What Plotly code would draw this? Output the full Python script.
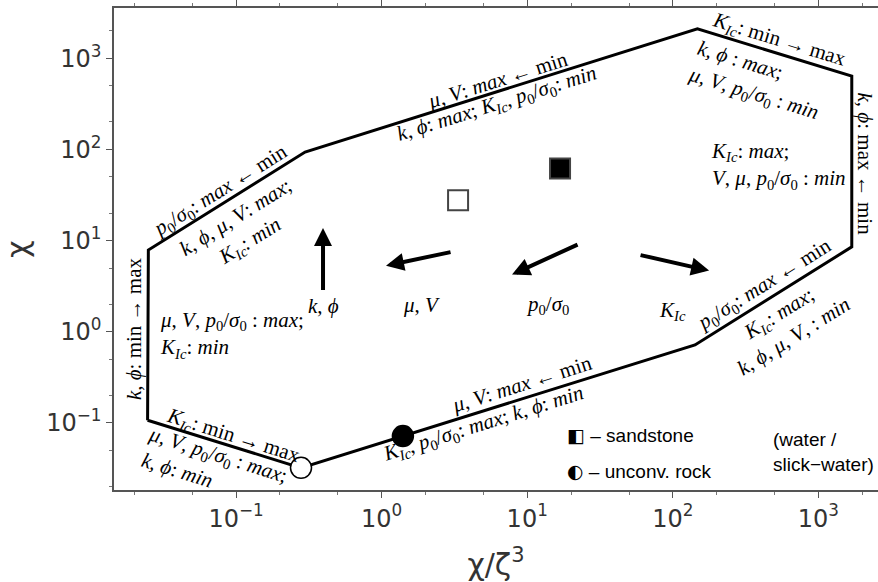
import plotly.graph_objects as go

# Outline of the regime map (closed polygon), in chi/zeta^3 and chi
outline_x = [0.0247, 0.0250, 0.298, 147.5, 1694, 1694, 142.0, 1.40, 0.2795, 0.0247]
outline_y = [0.107, 7.87, 93.7, 2104, 637, 8.54, 0.717, 0.0718, 0.0322, 0.107]

# Rock / fluid cases
sandstone_x = [3.35, 16.8]
sandstone_y = [27.7, 61.7]
sandstone_fill = ["white", "black"]
unconv_x = [0.2795, 1.40]
unconv_y = [0.0322, 0.0718]
unconv_fill = ["white", "black"]

x_ticks = [-1, 0, 1, 2, 3]
y_ticks = [-1, 0, 1, 2, 3]

SERIF = "Liberation Serif"
SANS = "Liberation Sans, DejaVu Sans"
MATH_SIZE = 21

K = "<i>K</i><sub><i>Ic</i></sub>"
P = "<i>p</i><sub>0</sub>/<i>σ</i><sub>0</sub>"

fig = go.Figure()

fig.add_trace(go.Scatter(
    x=outline_x, y=outline_y, mode="lines",
    line=dict(color="black", width=3), hoverinfo="skip", showlegend=False))

fig.add_trace(go.Scatter(
    x=sandstone_x, y=sandstone_y, mode="markers",
    marker=dict(symbol="square", size=20, color=sandstone_fill,
                line=dict(color="#444444", width=2)),
    showlegend=False))

fig.add_trace(go.Scatter(
    x=unconv_x, y=unconv_y, mode="markers",
    marker=dict(symbol="circle", size=21, color=unconv_fill,
                line=dict(color="black", width=1.5)),
    showlegend=False))

annotations = []


def label(text, lx, ly, angle=0, align="center", xanchor="center", size=MATH_SIZE, family=SERIF):
    annotations.append(dict(
        x=lx, y=ly, xref="x", yref="y", text=text, showarrow=False,
        textangle=angle, align=align, xanchor=xanchor, yanchor="middle",
        font=dict(family=family, size=size, color="black")))


# Edge labels (positions in log10 units)
label(f"{P}: <i>max</i> ← min", -1.110, 1.549, -32)
label(f"<i>k</i>, <i>ϕ</i>, <i>μ</i>, <i>V</i>: <i>max</i>;<br>{K}: <i>min</i>", -0.952, 1.116, -32)
label("<i>μ</i>, <i>V</i>: <i>max</i> ← min", 0.799, 2.758, -17.5)
label(f"<i>k</i>, <i>ϕ</i>: <i>max</i>; {K}, {P}: <i>min</i>", 0.793, 2.497, -17.5)
label(f"{K}: min → max", 2.729, 3.203, 17)
label(f"<i>k</i>, <i>ϕ</i> : <i>max</i>;<br><i>μ</i>, <i>V</i>, {P} : <i>min</i>", 2.578, 2.746, 17, align="left")
label("<i>k</i>, <i>ϕ</i>: max ← min", 3.320, 1.845, 90)
label(f"{P}: <i>max</i> ← min", 2.626, 0.518, -32)
label(f"{K}: <i>max</i>;<br><i>k</i>, <i>ϕ</i>, <i>μ</i>, <i>V</i>, : <i>min</i>", 2.777, 0.084, -32)
label("<i>μ</i>, <i>V</i>: <i>max</i> ← min", 0.964, -0.568, -17.5)
label(f"{K}, {P}: <i>max</i>; <i>k</i>, <i>ϕ</i>: <i>min</i>", 0.700, -1.014, -17.5)
label(f"{K}: min → max", -1.021, -1.145, 17.5)
label(f"<i>μ</i>, <i>V</i>, {P} : <i>max</i>;<br><i>k</i>, <i>ϕ</i>: <i>min</i>", -1.151, -1.492, 17.5, align="left")
label("<i>k</i>, <i>ϕ</i>: min → max", -1.701, 0.040, -90)

# Interior corner labels
label(f"{K}: <i>max</i>;<br><i>V</i>, <i>μ</i>, {P} : <i>min</i>", 2.249, 1.823, align="left", xanchor="left")
label(f"<i>μ</i>, <i>V</i>, {P} : <i>max</i>;<br>{K}: <i>min</i>", -1.536, -0.036, align="left", xanchor="left")

# Parameter trend arrows
arrows = [
    ("<i>k</i>, <i>ϕ</i>", (-0.4025, 0.4424), (-0.4025, 1.138), (-0.396, 0.279)),
    ("<i>μ</i>, <i>V</i>", (0.4835, 0.877), (0.0302, 0.725), (0.277, 0.290)),
    (P, (1.3558, 0.964), (0.8956, 0.627), (1.136, 0.290)),
    (K, (1.768, 0.845), (2.249, 0.671), (2.001, 0.225)),
]
for name, tail, tip, pos in arrows:
    annotations.append(dict(
        x=tip[0], y=tip[1], ax=tail[0], ay=tail[1], xref="x", yref="y",
        axref="x", ayref="y", text="", showarrow=True, arrowhead=2,
        arrowsize=0.9, arrowwidth=4, arrowcolor="black", standoff=0))
    label(name, pos[0], pos[1])

# Symbol key
SYM = '<span style="font-family:\'DejaVu Sans\'">{}</span>'
label(SYM.format("◧") + " – sandstone", 1.260, -1.134, align="left", xanchor="left", size=19, family=SANS)
label(SYM.format("◐") + " – unconv. rock", 1.260, -1.525, align="left", xanchor="left", size=19, family=SANS)
label("(water /<br>slick−water)", 2.674, -1.318, align="left", xanchor="left", size=19, family=SANS)

axis_common = dict(
    type="log", showgrid=False, zeroline=False, showline=True,
    linecolor="#555555", linewidth=1.5, ticks="outside", ticklen=6,
    tickwidth=1.2, tickcolor="#555555",
    tickfont=dict(family="DejaVu Sans", size=24, color="#333333"),
    exponentformat="power",
    minor=dict(ticks="outside", ticklen=3, tickwidth=1, tickcolor="#777777", showgrid=False),
)

fig.update_layout(
    width=878, height=582,
    margin=dict(l=114, r=0, t=4, b=92),
    paper_bgcolor="white", plot_bgcolor="white",
    annotations=annotations,
    xaxis=dict(**axis_common, range=[-1.838, 3.409], mirror="allticks",
               tickvals=[10 ** v for v in x_ticks],
               ticktext=[f"10<sup>{v}</sup>".replace("-", "−") for v in x_ticks],
               title=dict(text="χ/ζ<sup>3</sup>", standoff=24,
                          font=dict(family="DejaVu Sans", size=30, color="#333333"))),
    yaxis=dict(**axis_common, range=[-1.735, 3.551], mirror=False,
               tickvals=[10 ** v for v in y_ticks],
               ticktext=[f"10<sup>{v}</sup>".replace("-", "−") for v in y_ticks],
               title=dict(text="χ", standoff=20,
                          font=dict(family="DejaVu Sans", size=30, color="#333333"))),
)

fig.write_html("out.html")
